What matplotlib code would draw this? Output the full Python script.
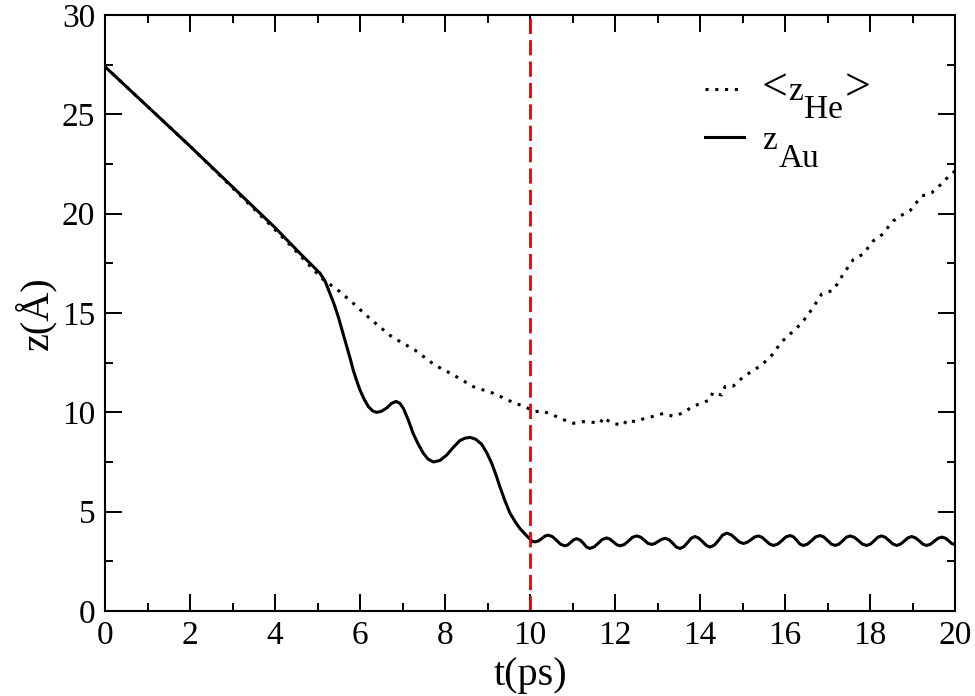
import matplotlib
matplotlib.use('Agg')
import matplotlib.pyplot as plt
from matplotlib.ticker import MultipleLocator

# z of the Au atom (solid line)
t_au = [0.0, 1.0, 2.0, 3.0, 4.0, 4.5, 4.59, 5.06, 5.18, 5.29, 5.39, 5.49, 5.59, 5.69, 5.77,
        5.84, 5.92, 6.0, 6.1, 6.2, 6.3, 6.39, 6.5, 6.63, 6.74, 6.85, 6.94, 7.02, 7.13, 7.25,
        7.37, 7.49, 7.6, 7.73, 7.88, 8.04, 8.2, 8.35, 8.47, 8.59, 8.72, 8.86, 8.98, 9.1, 9.2,
        9.29, 9.41, 9.53, 9.65, 9.76, 9.88, 10.0, 10.06, 10.12,
        10.2, 10.28, 10.35, 10.43, 10.53, 10.63, 10.72, 10.82, 10.89, 10.96, 11.03, 11.1,
        11.18, 11.26, 11.33, 11.41, 11.51, 11.61, 11.7, 11.8, 11.88, 11.96, 12.04, 12.12,
        12.22, 12.32, 12.41, 12.51, 12.6, 12.69, 12.77, 12.86, 12.94, 13.02, 13.1, 13.18,
        13.27, 13.36, 13.44, 13.53, 13.62, 13.71, 13.79, 13.88, 13.97, 14.06, 14.15, 14.24,
        14.34, 14.44, 14.53, 14.63, 14.73, 14.83, 14.92, 15.02, 15.11, 15.2, 15.28, 15.37,
        15.46, 15.55, 15.64, 15.73, 15.83, 15.93, 16.02, 16.12, 16.2, 16.28, 16.35, 16.43,
        16.53, 16.63, 16.72, 16.82, 16.91, 17.0, 17.09, 17.18, 17.27, 17.36, 17.44, 17.53,
        17.63, 17.73, 17.82, 17.92, 18.01, 18.1, 18.18, 18.27, 18.36, 18.45, 18.54, 18.63,
        18.72, 18.81, 18.89, 18.98, 19.07, 19.16, 19.24, 19.33, 19.42, 19.51, 19.6, 19.69,
        19.77, 19.85, 19.92, 20.0]
z_au = [27.4, 25.4, 23.4, 21.35, 19.3, 18.2, 18.0, 17.0, 16.6, 16.0, 15.45, 14.8, 14.05, 13.3, 12.7,
        12.13, 11.6, 11.12, 10.65, 10.28, 10.07, 10.0, 10.05, 10.22, 10.45, 10.55, 10.45, 10.2, 9.65, 8.94,
        8.4, 7.94, 7.65, 7.5, 7.58, 7.85, 8.25, 8.58, 8.7, 8.74, 8.65, 8.4, 7.98, 7.43, 6.85,
        6.26, 5.55, 4.92, 4.5, 4.16, 3.88, 3.62, 3.5, 3.48,
        3.53, 3.65, 3.77, 3.82, 3.74, 3.55, 3.36, 3.28, 3.33, 3.46, 3.59, 3.64,
        3.57, 3.4, 3.22, 3.15, 3.23, 3.42, 3.6, 3.68, 3.62, 3.48, 3.34, 3.28,
        3.35, 3.53, 3.71, 3.78, 3.72, 3.57, 3.41, 3.35, 3.4, 3.51, 3.61, 3.66,
        3.59, 3.41, 3.22, 3.15, 3.24, 3.45, 3.66, 3.75, 3.67, 3.49, 3.3, 3.22,
        3.32, 3.57, 3.82, 3.92, 3.84, 3.66, 3.48, 3.4, 3.46, 3.59, 3.72, 3.78,
        3.71, 3.54, 3.37, 3.3, 3.37, 3.55, 3.73, 3.8, 3.73, 3.55, 3.37, 3.3,
        3.37, 3.55, 3.73, 3.8, 3.73, 3.55, 3.37, 3.3, 3.37, 3.54, 3.71, 3.78,
        3.71, 3.54, 3.37, 3.3, 3.37, 3.54, 3.71, 3.78, 3.71, 3.54, 3.37, 3.3,
        3.37, 3.53, 3.68, 3.75, 3.68, 3.53, 3.37, 3.3, 3.36, 3.51, 3.66, 3.72,
        3.67, 3.54, 3.4, 3.35]

# mean z of the He droplet (dotted line)
t_he = [0.0, 0.5, 1.0, 1.5, 2.0, 2.5, 3.0, 3.5, 4.0, 4.5, 5.1, 5.53, 5.84, 6.27, 6.75, 7.29,
        7.76, 8.2, 8.67, 9.14, 9.57, 9.88, 10.12, 10.27, 10.51, 10.75, 11.02, 11.22, 11.37,
        11.65, 11.73, 11.92, 12.2, 12.28, 12.47, 12.63, 12.9, 13.14, 13.37, 13.61, 13.84,
        14.04, 14.24, 14.3, 14.51, 14.59, 14.78, 15.02, 15.45, 15.69, 15.92, 16.15, 16.39,
        16.63, 16.86, 17.14, 17.37, 17.61, 17.84, 18.08, 18.27, 18.55, 18.75, 18.94, 19.22,
        19.45, 19.65, 19.8, 20.0]
z_he = [27.4, 26.4, 25.4, 24.4, 23.4, 22.35, 21.3, 20.25, 19.2, 18.1, 16.74, 16.07, 15.49, 14.65,
        13.8, 13.14, 12.38, 11.88, 11.29, 10.96, 10.53, 10.28, 10.03, 10.08, 9.9, 9.66, 9.45,
        9.53, 9.53, 9.45, 9.75, 9.45, 9.36, 9.62, 9.53, 9.65, 9.8, 9.95, 9.8, 9.98, 10.32,
        10.45, 10.65, 11.0, 10.87, 11.3, 11.32, 11.79, 12.38, 12.88, 13.55, 14.0, 14.48,
        15.18, 15.95, 16.15, 16.96, 17.7, 17.97, 18.64, 18.92, 19.64, 19.93, 20.15, 20.89,
        21.05, 21.44, 21.77, 22.15]

t_cut = 10.0

plt.rcParams['font.family'] = ['Liberation Serif', 'DejaVu Serif']

fig = plt.figure(figsize=(9.75, 6.96), dpi=100)
ax = fig.add_axes([0.1077, 0.1221, 0.8718, 0.8563])

line_he, = ax.plot(t_he, z_he, color='black', lw=2.2, linestyle=(0, (1, 2.2)))
line_au, = ax.plot(t_au, z_au, color='black', lw=2.2)
ax.axvline(t_cut, color='#ee0000', lw=2, linestyle=(0, (5.5, 2.2)))

ax.set_xlim(0, 20)
ax.set_ylim(0, 30)
ax.xaxis.set_major_locator(MultipleLocator(2))
ax.xaxis.set_minor_locator(MultipleLocator(1))
ax.yaxis.set_major_locator(MultipleLocator(5))
ax.yaxis.set_minor_locator(MultipleLocator(2.5))
ax.tick_params(which='both', direction='in', top=True, right=True, width=1.4, labelsize=24)
ax.tick_params(which='major', length=12, pad=7)
ax.tick_params(which='minor', length=6)
for s in ax.spines.values():
    s.set_linewidth(1.5)

ax.set_xlabel('t(ps)', fontsize=29, labelpad=4)
ax.set_ylabel('z(Å)', fontsize=29, labelpad=4)

# legend; the rest of each label is chained after the legend texts
leg = ax.legend([line_he, line_au], ['<', 'z'], loc='upper left',
                bbox_to_anchor=(0.671, 0.962), frameon=False, fontsize=24,
                handlelength=1.15, handletextpad=0.55, labelspacing=0.45)
txt_he, txt_au = leg.get_texts()
txt_he.set_fontsize(33)
z_he_txt = ax.annotate('z', xy=(1, 0), xycoords=txt_he, xytext=(0, 2),
                       textcoords='offset points', fontsize=24, va='bottom', ha='left',
                       zorder=6)
sub_he = ax.annotate('He', xy=(1, 0), xycoords=z_he_txt, xytext=(1, -13),
                     textcoords='offset points', fontsize=24, va='bottom', ha='left',
                     zorder=6)
ax.annotate('>', xy=(1, 0), xycoords=sub_he, xytext=(1, 11),
            textcoords='offset points', fontsize=33, va='bottom', ha='left', zorder=6)
ax.annotate('Au', xy=(1, 0), xycoords=txt_au, xytext=(1, -13),
            textcoords='offset points', fontsize=24, va='bottom', ha='left', zorder=6)

fig.savefig('out.png', dpi=100)
